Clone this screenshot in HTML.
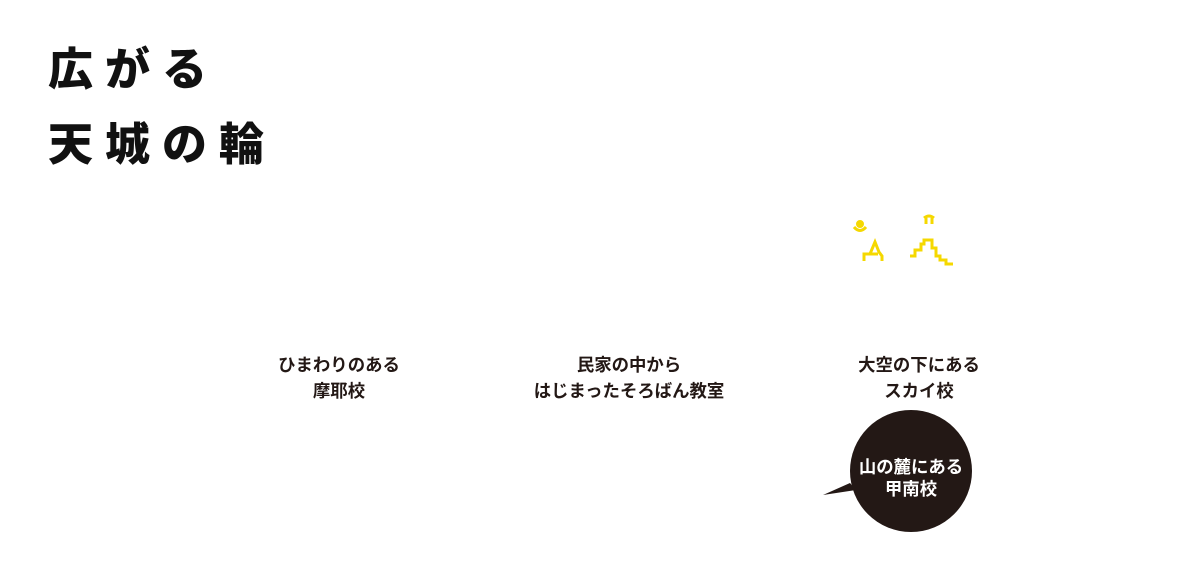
<!DOCTYPE html>
<html><head><meta charset="utf-8"><style>
body{margin:0;width:1200px;height:575px;background:#fff;position:relative;overflow:hidden;font-family:"Liberation Sans","Noto Sans CJK JP",sans-serif;color:#231815}
.t{position:absolute;left:48px;font-size:45px;font-weight:900;letter-spacing:12px;color:#111;line-height:1}
.l{position:absolute;width:300px;text-align:center;font-size:17.4px;font-weight:bold;line-height:26px}
</style></head><body>
<div class="t" style="top:47px">広がる</div>
<div class="t" style="top:122px">天城の輪</div>
<div class="l" style="left:189px;top:352px">ひまわりのある<br>摩耶校</div>
<div class="l" style="left:479px;top:352px">民家の中から<br>はじまったそろばん教室</div>
<div class="l" style="left:769px;top:352px">大空の下にある<br>スカイ校</div>
<svg style="position:absolute;left:0;top:0" width="1200" height="575">
<g fill="none" stroke="#f5d800" stroke-width="3">
<circle cx="860" cy="224" r="2.5" fill="#f5d800"/>
<path d="M854 227 q6 7 12 0"/>
<path d="M864 261 v-7 h6 l5 -12 l4 10 l3 4 v5"/>
<path d="M870 254 h8"/>
<path d="M924 218 q5 -4 10 0 M926 218 v6 M932 218 v6"/>
<path d="M910 256 h5 v-6 h6 v-6 h3 v-4 h8 v8 h4 v8 h4 v4 h6 v4 h7"/>
</g>
<path d="M850 483 L823 495 L856 490 Z" fill="#231815"/>
<circle cx="911" cy="471" r="61" fill="#231815"/>
<text x="911" y="473" fill="#fff" font-size="17.4" font-weight="bold" text-anchor="middle" font-family="Liberation Sans,Noto Sans CJK JP,sans-serif">山の麓にある</text>
<text x="911" y="495" fill="#fff" font-size="17.4" font-weight="bold" text-anchor="middle" font-family="Liberation Sans,Noto Sans CJK JP,sans-serif">甲南校</text>
</svg>
</body></html>
